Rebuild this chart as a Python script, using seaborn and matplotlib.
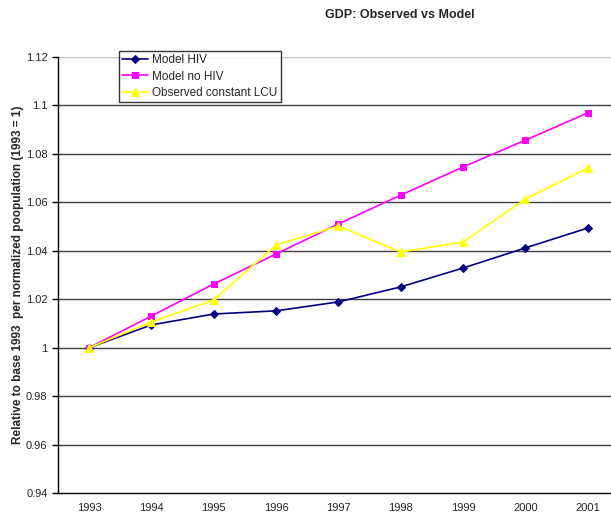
import numpy as np
import pandas as pd
import matplotlib
matplotlib.use("Agg")
import matplotlib.pyplot as plt
import seaborn as sns

# values
years = [1993, 1994, 1995, 1996, 1997, 1998, 1999, 2000, 2001]
model_hiv = [1.000, 1.0094, 1.0139, 1.0152, 1.0189, 1.0251, 1.0329, 1.0412, 1.0494]
model_no_hiv = [1.000, 1.0131, 1.0263, 1.0387, 1.0511, 1.0630, 1.0746, 1.0857, 1.0969]
observed = [1.000, 1.0106, 1.0197, 1.0424, 1.0502, 1.0395, 1.0436, 1.0614, 1.0742]
y_ticks = [0.94, 0.96, 0.98, 1, 1.02, 1.04, 1.06, 1.08, 1.1, 1.12]

sns.set_style("white")
plt.rcParams['font.family'] = ['Liberation Sans', 'DejaVu Sans']

fig = plt.figure(figsize=(6.11, 5.19), dpi=100)
# plot area runs slightly past the right edge like the source screenshot
ax = fig.add_axes([58 / 611, 26 / 519, 561 / 611, 436 / 519])

# horizontal gridlines (Excel style)
for v in y_ticks[1:]:
    col = '#c0c0c0' if v == 1.12 else '#404040'
    ax.axhline(v, color=col, lw=1.0, zorder=1)

series = [
    ('Model HIV', model_hiv, '#000080', 'D', 4),
    ('Model no HIV', model_no_hiv, '#ff00ff', 's', 5),
    ('Observed constant LCU', observed, '#ffff00', '^', 5.5),
]
for name, vals, col, mk, ms in series:
    df = pd.DataFrame({'year': years, 'value': vals})
    sns.lineplot(data=df, x='year', y='value', ax=ax, color=col, marker=mk,
                 markersize=ms, markeredgecolor=col, linewidth=1.2,
                 label=name, zorder=3)

ax.set_xlim(1992.5, 2001.5)
ax.set_ylim(0.94, 1.12)
ax.set_xticks(years)
ax.set_xticklabels([str(y) for y in years])
ax.set_xticks(np.arange(1992.5, 2001.6, 1.0), minor=True)
ax.tick_params(axis='x', which='major', length=0, pad=7, labelsize=8)
ax.tick_params(axis='x', which='minor', length=4, width=1, color='black', direction='out')
ax.set_yticks(y_ticks)
ax.set_yticklabels(['0.94', '0.96', '0.98', '1', '1.02', '1.04', '1.06', '1.08', '1.1', '1.12'])
ax.tick_params(axis='y', length=4, width=1, color='black', direction='out', labelsize=8, left=True)

for s in ['top', 'right']:
    ax.spines[s].set_visible(False)
for s in ['left', 'bottom']:
    ax.spines[s].set_color('black')
    ax.spines[s].set_linewidth(1.0)

ax.set_xlabel('')
ax.set_ylabel('Relative to base 1993  per normalized poopulation (1993 = 1)',
              fontsize=8.5, fontweight='bold', labelpad=1)

fig.text(400 / 611, 1 - 15 / 519, 'GDP: Observed vs Model', ha='center', va='center',
         fontsize=9, fontweight='bold')

leg = ax.legend(loc='upper left', bbox_to_anchor=(113 / 611, 1 - 45 / 519),
                bbox_transform=fig.transFigure, fontsize=8.5, frameon=True,
                fancybox=False, edgecolor='black', handlelength=2.2,
                borderpad=0.3, labelspacing=0.35, handletextpad=0.3)
leg.get_frame().set_linewidth(1.0)
leg.set_zorder(5)

fig.savefig('out.png', dpi=100)
